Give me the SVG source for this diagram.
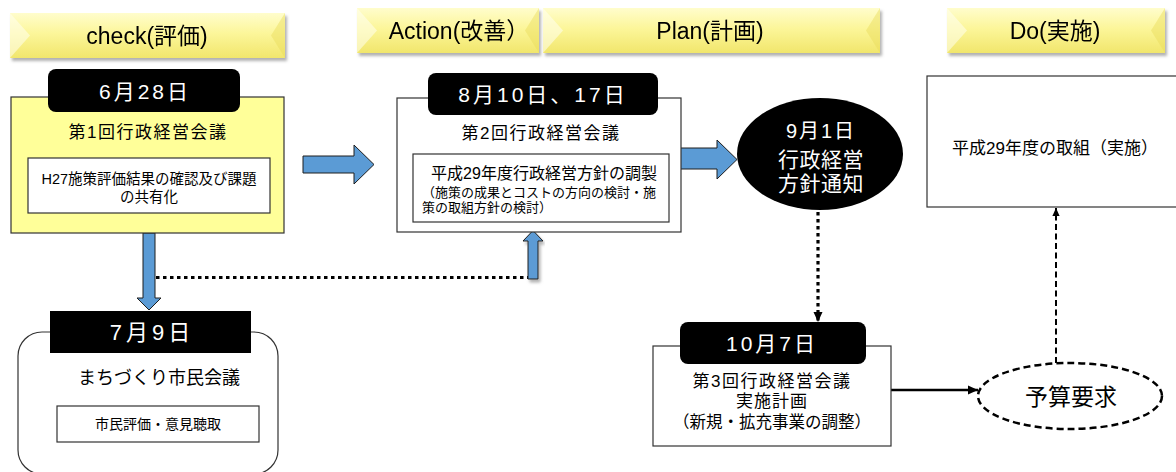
<svg xmlns="http://www.w3.org/2000/svg" width="1176" height="472" viewBox="0 0 1176 472">
<defs>
<linearGradient id="bg" x1="0" y1="0" x2="0" y2="1">
<stop offset="0" stop-color="#fffdcc"/>
<stop offset="0.45" stop-color="#fcf69a"/>
<stop offset="1" stop-color="#f1e66c"/>
</linearGradient>
<filter id="sh" x="-10%" y="-20%" width="120%" height="160%">
<feDropShadow dx="2" dy="3" stdDeviation="1.5" flood-color="#7f7f7f" flood-opacity="0.6"/>
</filter>
<marker id="ah" viewBox="0 0 10 10" refX="10" refY="5" markerWidth="10" markerHeight="10" markerUnits="userSpaceOnUse" orient="auto">
<path d="M0,0.5 L10,5 L0,9.5 Z" fill="#000"/>
</marker>
<marker id="ahs" viewBox="0 0 10 10" refX="10" refY="5" markerWidth="8" markerHeight="8" markerUnits="userSpaceOnUse" orient="auto">
<path d="M0,0.5 L10,5 L0,9.5 Z" fill="#000"/>
</marker>
</defs>
<style>
text { font-family: "Liberation Sans", "Noto Sans CJK JP", sans-serif; fill: #000; dominant-baseline: central; }
.c { text-anchor: middle; }
.w { fill: #fff; }
.hd { font-size: 23px; }
.date { font-size: 21px; letter-spacing: 3px; }
.ttl { font-size: 17px; letter-spacing: 1.5px; }
.box { fill: #fff; stroke: #333; stroke-width: 1.2; }
.ylw { fill: #ffff99; stroke: #333; stroke-width: 1.2; }
.lbl { fill: #000; }
.bevL { fill: #fffff0; opacity: 0.55; }
.bevR { fill: #e8dc5a; opacity: 0.45; }
.blue { fill: #5b9bd5; stroke: #1e1e1e; stroke-width: 1; }
.dot { fill: none; stroke: #000; stroke-width: 3.2; stroke-dasharray: 3.5 3.5; }
.dash { fill: none; stroke: #000; stroke-width: 2; stroke-dasharray: 6 3.5; }
</style>

<g id="banner-check" filter="url(#sh)">
<rect x="10" y="13" width="275" height="45" fill="url(#bg)"/>
<polygon class="bevL" points="10,13 30,35.5 10,58"/>
<polygon class="bevR" points="285,13 271,35.5 285,58"/>
<text class="c hd" x="147" y="36">check(評価)</text>
</g>
<g id="banner-action" filter="url(#sh)">
<rect x="357" y="8" width="182" height="45" fill="url(#bg)"/>
<polygon class="bevL" points="357,8 377,30.5 357,53"/>
<polygon class="bevR" points="539,8 525,30.5 539,53"/>
<text class="c hd" x="459" y="31">Action(改善）</text>
</g>
<g id="banner-plan" filter="url(#sh)">
<rect x="543" y="8" width="337" height="45" fill="url(#bg)"/>
<polygon class="bevL" points="543,8 563,30.5 543,53"/>
<polygon class="bevR" points="880,8 866,30.5 880,53"/>
<text class="c hd" x="710" y="31">Plan(計画)</text>
</g>
<g id="banner-do" filter="url(#sh)">
<rect x="947" y="8" width="218" height="45" fill="url(#bg)"/>
<polygon class="bevL" points="947,8 967,30.5 947,53"/>
<polygon class="bevR" points="1165,8 1151,30.5 1165,53"/>
<text class="c hd" x="1055" y="31">Do(実施)</text>
</g>

<g id="connectors">
<polygon class="blue" points="303,156 354,156 354,145 374,164.5 354,184 354,173 303,173"/>
<polygon class="blue" points="665,148 717,148 717,140 737,159.5 717,179 717,169 665,169"/>
<polygon class="blue" points="143,233 155,233 155,298 161,298 149,310 137,298 143,298"/>
<path class="dot" d="M156,277.5 L528,277.5"/>
<polygon class="blue" points="528,279 538,279 538,241 543,241 533,230.5 523,241 528,241" filter="url(#sh)"/>
<path class="dot" d="M818,212 L818,322" marker-end="url(#ah)"/>
<path d="M891,390 L978,390" fill="none" stroke="#000" stroke-width="2.5" marker-end="url(#ah)"/>
<path class="dash" d="M1056,363 L1056,208" marker-end="url(#ahs)"/>
</g>

<g id="node-0628">
<rect class="ylw" x="11" y="97" width="273" height="136"/>
<rect class="lbl" x="48" y="69" width="192" height="43" rx="8"/>
<text class="c date w" x="145" y="91">6月28日</text>
<text class="c ttl" x="148" y="132">第1回行政経営会議</text>
<rect class="box" x="28" y="158" width="242" height="55"/>
<text class="c" x="149" y="179" font-size="14.5">H27施策評価結果の確認及び課題</text>
<text class="c" x="149" y="197" font-size="14.5">の共有化</text>
</g>

<g id="node-0709">
<rect class="box" x="18" y="332" width="260" height="142" rx="24"/>
<rect class="lbl" x="50" y="311" width="201" height="42"/>
<text class="c w" x="152" y="332" font-size="22" letter-spacing="4">7月9日</text>
<text class="c" x="159" y="378" font-size="18">まちづくり市民会議</text>
<rect class="box" x="57" y="406" width="202" height="36"/>
<text class="c" x="158" y="424" font-size="14">市民評価・意見聴取</text>
</g>

<g id="node-0810">
<rect class="box" x="397" y="98" width="284" height="134"/>
<rect class="lbl" x="428" y="73" width="230" height="42" rx="8"/>
<text class="c date w" x="543" y="94">8月10日、17日</text>
<text class="c ttl" x="541" y="133">第2回行政経営会議</text>
<rect class="box" x="413" y="154" width="256" height="68"/>
<text class="c" x="544" y="173" font-size="16">平成29年度行政経営方針の調製</text>
<text x="422" y="192" font-size="13">（施策の成果とコストの方向の検討・施</text>
<text x="422" y="207" font-size="13">策の取組方針の検討）</text>
</g>

<g id="node-0901">
<ellipse cx="820" cy="154" rx="83" ry="56" fill="#000"/>
<text class="c w" x="821" y="131" font-size="20" letter-spacing="2">9月1日</text>
<text class="c w" x="821" y="159" font-size="21" letter-spacing="0.5">行政経営</text>
<text class="c w" x="821" y="183" font-size="21" letter-spacing="0.5">方針通知</text>
</g>

<g id="node-do">
<rect class="box" x="927" y="76" width="260" height="131"/>
<text class="c" x="1055" y="148" font-size="17">平成29年度の取組（実施）</text>
</g>

<g id="node-1007">
<rect class="box" x="653" y="346" width="238" height="100"/>
<rect class="lbl" x="680" y="322" width="186" height="42" rx="8"/>
<text class="c date w" x="772" y="343">10月7日</text>
<text class="c ttl" x="772" y="381">第3回行政経営会議</text>
<text class="c" x="772" y="401" font-size="17" letter-spacing="1">実施計画</text>
<text class="c" x="772" y="422" font-size="16.5">（新規・拡充事業の調整）</text>
</g>

<g id="node-budget">
<ellipse cx="1070" cy="396" rx="92" ry="33" fill="#fff" stroke="#000" stroke-width="2.5" stroke-dasharray="7 4"/>
<text class="c" x="1071" y="397" font-size="23">予算要求</text>
</g>
</svg>
